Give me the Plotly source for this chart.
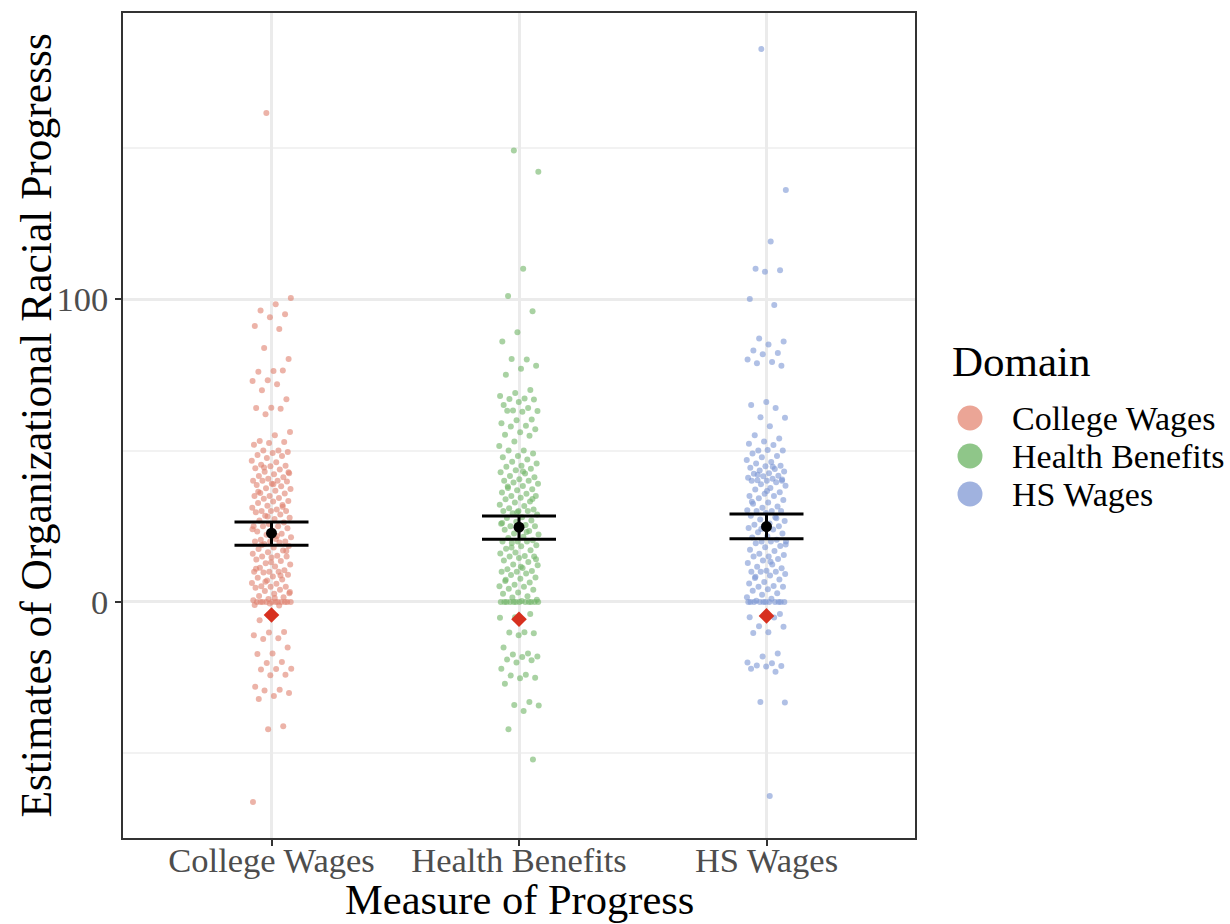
import plotly.graph_objects as go

# ---- data -------------------------------------------------------------
domains = ["College Wages", "Health Benefits", "HS Wages"]

college_wages = [
    161.4, 100.3, 98.3, 96.2, 95.0, 94.0, 91.1, 90.1, 83.8, 80.2,
    76.2, 76.0, 76.4, 73.2, 72.9, 71.9, 69.9, 66.9, 64.1, 64.0,
    63.8, 62.0, 56.1, 55.0, 53.1, 52.8, 52.5, 51.9, 50.0, 50.0,
    49.5, 49.2, 48.5, 48.2, 47.5,
    46.6, 46.1, 45.3, 45.0, 44.8, 44.1, 43.7, 43.0, 42.5, 42.2,
    41.6, 41.2, 40.7, 40.0, 40.0, 40.0, 39.8, 39.0, 38.6, 38.2,
    37.5, 37.3, 36.7, 36.0, 35.8, 35.0, 35.0, 34.3, 34.1, 33.3,
    33.2, 32.7, 32.0, 31.8, 31.1, 30.5, 30.0, 30.0, 30.0, 29.6,
    28.9, 28.5, 27.8, 27.4, 26.9, 26.2, 25.7, 25.0, 25.0, 25.0,
    24.3, 23.6, 23.3, 22.5, 22.2, 21.4, 20.8, 20.5, 20.0, 20.0,
    20.0, 19.6, 19.1, 18.5, 18.0, 17.5, 17.0, 16.4, 15.9, 15.3,
    15.0, 15.0, 14.7, 14.0, 13.5, 12.8, 12.4, 11.7, 11.3, 10.5,
    10.0, 10.0, 10.0, 9.7, 9.0, 8.4, 8.0, 7.4, 7.1, 6.3,
    6.0, 5.2, 5.0, 5.0, 4.7, 4.0, 3.6, 2.9, 2.7, 2.0,
    1.6, 1.0, 0.6, 0.0, 0.0, 0.0, 0.0, 0.0, 0.0, 0.0,
    0.0, 0.0, 0.0, 0.0, -0.5, -1.0, -1.2,
    44.4, 42.8, 38.9, 36.4, 31.4, 28.2, 24.0, 21.8, 18.8, 16.8,
    13.1, 11.0, 8.7, 6.7, 3.3, 1.3,
    -6.0, -9.9, -10.1, -11.0, -12.0, -12.2, -15.0, -17.0, -17.2, -19.8,
    -20.1, -22.0, -22.1, -22.3, -24.0, -24.2, -28.0, -29.0, -29.2, -30.0,
    -31.0, -32.0, -41.0, -42.0, -66.0,
]

health_benefits = [
    149.0, 142.0, 110.0, 101.0, 96.0, 89.0, 86.0, 80.0, 80.2, 78.0,
    77.0, 75.0, 70.0, 69.0, 68.0, 67.2, 67.0, 66.8, 66.0, 65.0,
    64.0, 63.2, 63.0, 62.8, 63.1, 60.2, 60.0, 59.0, 58.2, 57.9,
    57.0, 56.0, 55.2, 54.9, 53.0, 51.5, 50.0, 50.0, 49.0, 48.2,
    47.8, 47.0,
    46.3, 45.7, 45.0, 44.6, 44.0, 43.5, 42.8, 42.4, 41.6, 41.2,
    40.5, 40.0, 40.0, 39.4, 39.0, 38.3, 38.1, 37.2, 36.9, 36.1,
    35.7, 35.0, 35.0, 34.4, 33.9, 33.2, 32.8, 32.1, 31.7, 30.9,
    30.5, 30.0, 30.0, 30.0, 29.3, 28.9, 28.0, 27.7, 26.9, 26.5,
    25.8, 25.4, 25.0, 25.0, 24.7, 23.8, 23.4, 22.6, 22.3, 21.5,
    21.1, 20.4, 20.0, 20.0, 20.0, 19.5, 18.7, 18.4, 17.6, 17.1,
    16.3, 16.0, 15.2, 15.0, 15.0, 14.5, 13.7, 13.2, 12.4, 12.1,
    11.2, 10.8, 10.2, 10.0, 10.0, 9.4, 8.9, 8.1, 7.7, 6.9,
    6.4, 5.7, 5.2, 5.0, 4.4, 4.0, 3.1, 2.7, 1.9, 1.5,
    0.7, 0.3, 0.0, 0.0, 0.0, 0.0, 0.0, 0.0, 0.0, 0.0,
    0.0, 0.0, 0.0, 0.0,
    43.1, 37.6, 34.0, 29.6, 26.1, 23.1, 18.0, 14.1, 11.6, 7.3,
    -4.0, -5.0, -5.2, -10.0, -10.1, -10.3, -11.0, -15.0, -17.0, -17.3,
    -18.0, -18.2, -19.0, -19.2, -20.0, -22.0, -24.0, -24.3, -25.0, -25.2,
    -27.0, -33.0, -34.0, -34.2, -36.0, -42.0, -52.0,
]

hs_wages = [
    182.5, 136.0, 119.0, 110.0, 109.5, 109.0, 100.0, 98.0, 87.0, 86.0,
    85.0, 83.0, 82.2, 81.8, 80.0, 79.2, 78.8, 78.0, 66.0, 65.0,
    64.0, 61.0, 60.8, 58.0, 55.0, 54.0, 53.0, 52.2, 51.8, 50.0,
    50.0, 50.2, 49.0, 48.2, 47.8,
    46.9, 46.2, 45.7, 45.0, 44.8, 44.3, 43.9, 43.4, 43.1, 42.5,
    42.3, 41.7, 41.5, 41.0, 40.7, 40.2, 40.0, 40.0, 40.0, 39.5,
    38.9, 38.4, 37.6, 37.1, 36.2, 35.7, 35.0, 35.0, 34.2, 33.7,
    32.8, 32.4, 31.5, 31.1, 30.3, 30.0, 30.0, 30.0, 29.4, 28.5,
    28.0, 27.2, 26.7, 25.9, 25.5, 25.0, 25.0, 24.4, 23.9, 23.0,
    22.6, 21.7, 21.3, 20.5, 20.0, 20.0, 20.0, 19.4, 18.5, 18.1,
    17.2, 16.8, 15.9, 15.5, 15.0, 15.0, 14.2, 13.7, 12.9, 12.4,
    11.6, 11.1, 10.3, 10.0, 10.0, 10.0, 9.2, 8.7, 7.9, 7.4,
    6.6, 6.1, 5.3, 5.0, 5.0, 4.2, 3.7, 2.9, 2.4, 1.6,
    1.1, 0.4, 0.0, 0.0, 0.0, 0.0, 0.0, 0.0, 0.0, 0.0,
    0.0, 0.0, 0.0,
    44.6, 42.0, 40.4, 36.6, 33.1, 27.6, 24.1, 19.0, 13.3, 8.3,
    -4.0, -4.2, -5.0, -5.1, -8.0, -8.2, -10.0, -10.2, -17.0, -18.0,
    -20.0, -20.2, -21.0, -21.1, -21.3, -22.0, -23.0, -33.0, -33.2, -64.0,
]

group_means = [22.7, 24.7, 24.9]
ci_upper = [26.4, 28.4, 29.0]
ci_lower = [18.7, 20.7, 20.9]
reference_values = [-4.3, -5.7, -4.6]

# ---- styling ----------------------------------------------------------
point_colors = ["#E0806E", "#6FB465", "#7C96D4"]
key_colors = ["#EBA596", "#8FC689", "#A0B2DF"]
FONT = "Liberation Serif"
JITTER = 0.08

W, H = 1230, 924
M_L, M_R, M_T, M_B = 123, 315, 13, 86
PLOT_W = W - M_L - M_R
PLOT_H = H - M_T - M_B


def px_to_paper(px, py):
    # pixel position on the page -> paper coordinates of the plotting area
    return (px - M_L) / PLOT_W, (H - M_B - py) / PLOT_H


def jitter_offsets(n, width):
    # evenly spread horizontal offsets (golden-ratio sequence) for the strip
    return [(((k * 0.6180339887) + 0.37) % 1.0 - 0.5) * 2 * width for k in range(n)]


fig = go.Figure()

for idx, (name, vals, col) in enumerate(zip(domains, [college_wages, health_benefits, hs_wages], point_colors)):
    pos = idx + 1
    offs = jitter_offsets(len(vals), JITTER)
    fig.add_trace(go.Scatter(
        x=[pos + o for o in offs],
        y=vals,
        mode="markers",
        name=name,
        marker=dict(size=6, color=col, opacity=0.6, line=dict(width=0)),
        hoverinfo="y+name",
        showlegend=False,
    ))

positions = [1, 2, 3]
fig.add_trace(go.Scatter(
    x=positions,
    y=group_means,
    mode="markers",
    marker=dict(size=11, color="black"),
    error_y=dict(
        type="data",
        symmetric=False,
        array=[u - m for u, m in zip(ci_upper, group_means)],
        arrayminus=[m - l for m, l in zip(group_means, ci_lower)],
        width=37,
        thickness=3,
        color="black",
    ),
    showlegend=False,
    hoverinfo="y",
))

fig.add_trace(go.Scatter(
    x=positions,
    y=reference_values,
    mode="markers",
    marker=dict(symbol="diamond", size=12, color="#D7301F", line=dict(width=0)),
    showlegend=False,
    hoverinfo="y",
))

# ---- axis titles and legend key (placed in page space) ----------------
shapes = []
annotations = []

xt_x, xt_y = px_to_paper(M_L + PLOT_W / 2, 899)
annotations.append(dict(
    x=xt_x, y=xt_y, xref="paper", yref="paper", xanchor="center", yanchor="middle",
    text="Measure of Progress", showarrow=False,
    font=dict(size=42.5, family=FONT, color="black"),
))
yt_x, yt_y = px_to_paper(35, M_T + PLOT_H / 2)
annotations.append(dict(
    x=yt_x, y=yt_y, xref="paper", yref="paper", xanchor="center", yanchor="middle",
    text="Estimates of Organizational Racial Progresss", textangle=-90, showarrow=False,
    font=dict(size=43.5, family=FONT, color="black"),
))

tx, ty = px_to_paper(950, 362)
annotations.append(dict(
    x=tx, y=ty, xref="paper", yref="paper", xanchor="left", yanchor="middle",
    text="Domain", showarrow=False, font=dict(size=43, family=FONT, color="black"),
))
for k, (name, col) in enumerate(zip(domains, key_colors)):
    row_y = 418 + 38 * k
    cx, cy = px_to_paper(970, row_y)
    shapes.append(dict(
        type="circle", xref="paper", yref="paper",
        xsizemode="pixel", ysizemode="pixel",
        xanchor=cx, yanchor=cy, x0=-12.5, x1=12.5, y0=-12.5, y1=12.5,
        fillcolor=col, line=dict(width=0),
    ))
    lx, ly = px_to_paper(1010, row_y)
    annotations.append(dict(
        x=lx, y=ly, xref="paper", yref="paper", xanchor="left", yanchor="middle",
        text=name, showarrow=False, font=dict(size=34, family=FONT, color="black"),
    ))

fig.update_layout(
    width=W,
    height=H,
    margin=dict(l=M_L, r=M_R, t=M_T, b=M_B),
    paper_bgcolor="white",
    plot_bgcolor="white",
    font=dict(family=FONT, color="black"),
    showlegend=False,
    shapes=shapes,
    annotations=annotations,
)

fig.update_xaxes(
    range=[0.4, 3.6],
    tickvals=positions,
    ticktext=domains,
    tickfont=dict(size=34.5, color="#4D4D4D", family=FONT),
    ticklabelstandoff=-15,
    ticks="outside",
    ticklen=6,
    tickwidth=1.5,
    tickcolor="#333333",
    showgrid=True,
    gridcolor="#EBEBEB",
    gridwidth=3,
    zeroline=False,
    showline=True,
    linecolor="#333333",
    linewidth=1.5,
    mirror=True,
    automargin=False,
)

fig.update_yaxes(
    range=[-77.9, 194.4],
    tickvals=[0, 100],
    tickfont=dict(size=34.5, color="#4D4D4D", family=FONT),
    ticks="outside",
    ticklen=6,
    tickwidth=1.5,
    tickcolor="#333333",
    showgrid=True,
    gridcolor="#EBEBEB",
    gridwidth=3,
    minor=dict(tick0=-50, dtick=100, showgrid=True, gridcolor="#F2F2F2", gridwidth=1.5, ticks=""),
    zeroline=False,
    showline=True,
    linecolor="#333333",
    linewidth=1.5,
    mirror=True,
    automargin=False,
)

fig.write_html("out.html")
